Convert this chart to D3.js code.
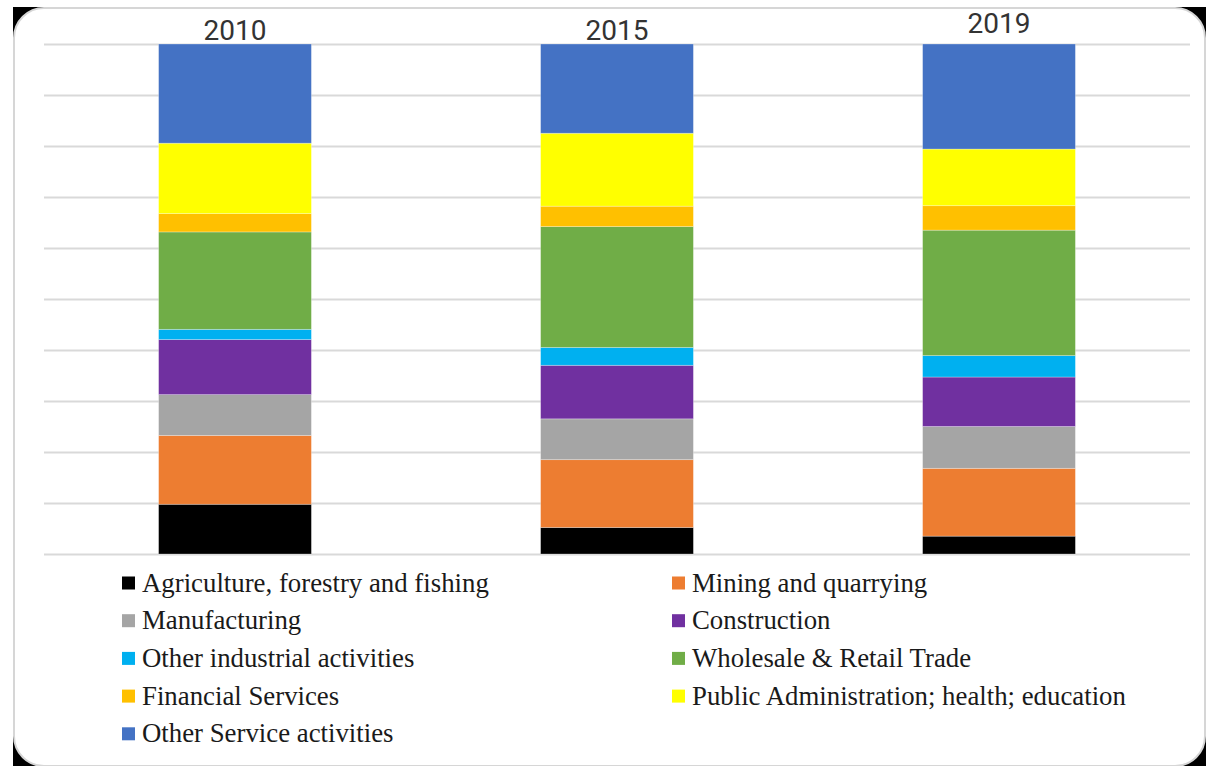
<html>
<head>
<title>Sector shares 2010-2019</title>
<script type="text/javascript" src="https://cdn.jsdelivr.net/npm/d3@7"></script>
<style>
  body { margin: 0; background: #ffffff; }
  .yearLabel { font-family: Roboto, "DejaVu Sans", sans-serif; font-size: 28px; fill: #333333; }
  .legendLabel { font-family: "Liberation Serif", "Times New Roman", serif; font-size: 26.8px; fill: #1a1a1a; }
</style>
<script type="text/javascript">

// chart values, percent of total per year
var years = ["2010", "2015", "2019"];
var sectors = [
  "Agriculture, forestry and fishing",
  "Mining and quarrying",
  "Manufacturing",
  "Construction",
  "Other industrial activities",
  "Wholesale & Retail Trade",
  "Financial Services",
  "Public Administration; health; education",
  "Other Service activities"
];
var sectorColors = ["#000000", "#ED7D31", "#A5A5A5", "#7030A0", "#00B0F0", "#70AD47", "#FFC000", "#FFFF00", "#4472C4"];

// one array per sector, values for 2010, 2015, 2019
var agriculture   = [9.75, 5.2, 3.5];
var mining        = [13.5, 13.3, 13.3];
var manufacturing = [8.0, 8.0, 8.2];
var construction  = [10.8, 10.5, 9.7];
var otherIndustry = [2.0, 3.5, 4.2];
var wholesale     = [19.1, 23.7, 24.6];
var financial     = [3.6, 4.0, 4.8];
var publicAdmin   = [13.8, 14.3, 11.1];
var otherService  = [19.45, 17.5, 20.6];

var seriesValues = [agriculture, mining, manufacturing, construction, otherIndustry, wholesale, financial, publicAdmin, otherService];

window.onload = function() {
  var width = 1211, height = 766;
  var plot = { left: 44, right: 1190, top: 44, bottom: 554 };

  var svg = d3.select("#chart")
              .append("svg")
              .attr("width", width)
              .attr("height", height);

  // frame: black corners behind a white rounded panel
  svg.append("rect")
    .attr("x", 13).attr("y", 7)
    .attr("width", 1193).attr("height", 770)
    .attr("fill", "#000000");
  svg.append("rect")
    .attr("x", 14).attr("y", 8)
    .attr("width", 1191).attr("height", 758)
    .attr("rx", 30).attr("ry", 30)
    .attr("fill", "#ffffff")
    .attr("stroke", "#d6d6d6")
    .attr("stroke-width", 2);

  // build stacked table from the arrays
  var table = years.map(function(year, i) {
    var row = { year: year };
    sectors.forEach(function(s, j) { row[s] = seriesValues[j][i]; });
    return row;
  });
  var stack = d3.stack().keys(sectors).offset(d3.stackOffsetExpand);
  var layers = stack(table);

  var x = d3.scaleBand()
            .domain(years)
            .range([plot.left, plot.right])
            .paddingInner(0.6)
            .paddingOuter(0.3);

  var y = d3.scaleLinear()
            .domain([0, 1])
            .range([plot.bottom, plot.top]);

  // gridlines every 10%
  var yAxis = d3.axisLeft(y)
                .ticks(10)
                .tickSize(-(plot.right - plot.left))
                .tickFormat("");
  var grid = svg.append("g")
                .attr("transform", "translate(" + plot.left + ",0)")
                .call(yAxis);
  grid.select(".domain").remove();
  grid.selectAll("line")
    .attr("stroke", "#d9d9d9")
    .attr("stroke-width", 2);

  var layerGroups = svg.selectAll(".layer")
    .data(layers)
    .enter().append("g")
    .attr("class", "layer")
    .attr("fill", function(d, i) { return sectorColors[i]; });

  layerGroups.selectAll("rect")
    .data(function(d) { return d; })
    .enter().append("rect")
    .attr("x", function(d) { return x(d.data.year); })
    .attr("y", function(d) { return y(d[1]); })
    .attr("width", x.bandwidth())
    .attr("height", function(d) { return y(d[0]) - y(d[1]); })
    .attr("stroke", "#ffffff")
    .attr("stroke-opacity", 0.35)
    .attr("stroke-width", 0.8);

  // year labels above each bar
  svg.selectAll(".yearLabel")
    .data(years)
    .enter().append("text")
    .attr("class", "yearLabel")
    .attr("x", function(d) { return x(d) + x.bandwidth() / 2; })
    .attr("y", function(d, i) { return i == 2 ? 33 : 40; })
    .attr("text-anchor", "middle")
    .text(function(d) { return d; });

  // legend, two columns
  var legendCols = [122, 672];
  var legendTop = 583, legendStep = 37.7;
  var legend = svg.selectAll(".legendItem")
    .data(sectors)
    .enter().append("g")
    .attr("class", "legendItem")
    .attr("transform", function(d, i) {
      return "translate(" + legendCols[i % 2] + "," + (legendTop + Math.floor(i / 2) * legendStep) + ")";
    });

  legend.append("rect")
    .attr("x", 0)
    .attr("y", -6.5)
    .attr("width", 13)
    .attr("height", 13)
    .attr("fill", function(d, i) { return sectorColors[i]; });

  legend.append("text")
    .attr("class", "legendLabel")
    .attr("x", 20)
    .attr("y", 8.5)
    .text(function(d) { return d; });
}

</script>
</head>
<body>
  <div id="chart"></div>
</body>
</html>
